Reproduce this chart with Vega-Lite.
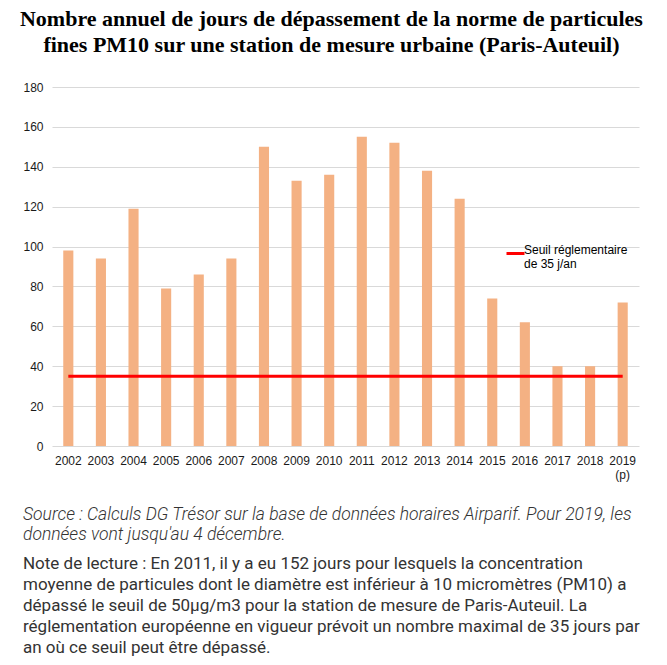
{
  "$schema": "https://vega.github.io/schema/vega-lite/v6.json",
  "padding": {"left": 19, "top": 8, "right": 0, "bottom": 0},
  "background": "white",
  "title": {
    "text": ["Nombre annuel de jours de dépassement de la norme de particules", "fines PM10 sur une station de mesure urbaine (Paris-Auteuil)"],
    "font": "Liberation Serif",
    "fontSize": 22,
    "fontWeight": "bold",
    "color": "#000000",
    "lineHeight": 26,
    "anchor": "middle",
    "offset": 24
  },
  "data": {
    "values": [
      {"year": "2002", "days": 98},
      {"year": "2003", "days": 94},
      {"year": "2004", "days": 119},
      {"year": "2005", "days": 79},
      {"year": "2006", "days": 86},
      {"year": "2007", "days": 94},
      {"year": "2008", "days": 150},
      {"year": "2009", "days": 133},
      {"year": "2010", "days": 136},
      {"year": "2011", "days": 155},
      {"year": "2012", "days": 152},
      {"year": "2013", "days": 138},
      {"year": "2014", "days": 124},
      {"year": "2015", "days": 74},
      {"year": "2016", "days": 62},
      {"year": "2017", "days": 40},
      {"year": "2018", "days": 40},
      {"year": "2019", "days": 72}
    ]
  },
  "vconcat": [
    {
      "width": 587,
      "height": 359,
      "title": {
        "text": ["Source : Calculs DG Trésor sur la base de données horaires Airparif. Pour 2019, les", "données vont jusqu'au 4 décembre."],
        "subtitle": ["Note de lecture : En 2011, il y a eu 152 jours pour lesquels la concentration", "moyenne de particules dont le diamètre est inférieur à 10 micromètres (PM10) a", "dépassé le seuil de 50µg/m3 pour la station de mesure de Paris-Auteuil. La", "réglementation européenne en vigueur prévoit un nombre maximal de 35 jours par", "an où ce seuil peut être dépassé."],
        "orient": "bottom",
        "anchor": "start",
        "font": "Roboto",
        "fontSize": 17.5,
        "fontStyle": "italic",
        "fontWeight": 300,
        "color": "#333333",
        "lineHeight": 20,
        "subtitleFont": "Roboto",
        "subtitleFontSize": 17,
        "subtitleFontWeight": 400,
        "subtitleColor": "#333333",
        "subtitleLineHeight": 21,
        "subtitlePadding": 12,
        "offset": 26
      },
      "layer": [
        {
          "mark": {"type": "bar", "color": "#F4B183"},
          "encoding": {
            "x": {
              "field": "year",
              "type": "nominal",
              "sort": null,
              "scale": {"paddingInner": 0.69, "paddingOuter": 0.345},
              "axis": {
                "title": null,
                "labelAngle": 0,
                "labelExpr": "datum.value == '2019' ? ['2019', '(p)'] : datum.value",
                "labelFont": "Liberation Sans",
                "labelFontSize": 12,
                "labelColor": "#1a1a1a",
                "labelPadding": 9,
                "ticks": false,
                "domain": false,
                "grid": false
              }
            },
            "y": {
              "field": "days",
              "type": "quantitative",
              "scale": {"domain": [0, 180], "nice": false},
              "axis": {
                "title": null,
                "values": [0, 20, 40, 60, 80, 100, 120, 140, 160, 180],
                "tickCount": 20,
                "labelOverlap": false,
                "labelFont": "Liberation Sans",
                "labelFontSize": 12,
                "labelColor": "#1a1a1a",
                "labelPadding": 9,
                "ticks": false,
                "domain": false,
                "grid": true,
                "gridColor": "#D9D9D9",
                "gridWidth": 1
              }
            }
          }
        },
        {
          "mark": {"type": "line", "strokeWidth": 3},
          "encoding": {
            "x": {"field": "year", "type": "nominal", "sort": null},
            "y": {
              "datum": 35,
              "type": "quantitative",
              "axis": {
                "title": null,
                "values": [0, 20, 40, 60, 80, 100, 120, 140, 160, 180],
                "tickCount": 20,
                "labelOverlap": false,
                "labelFont": "Liberation Sans",
                "labelFontSize": 12,
                "labelColor": "#1a1a1a",
                "labelPadding": 9,
                "ticks": false,
                "domain": false,
                "grid": true,
                "gridColor": "#D9D9D9",
                "gridWidth": 1
              }
            },
            "color": {
              "datum": "Seuil",
              "type": "nominal",
              "scale": {"range": ["#FF0000"]},
              "legend": {
                "title": null,
                "orient": "none",
                "legendX": 453,
                "legendY": 156,
                "symbolType": "stroke",
                "symbolSize": 324,
                "symbolStrokeWidth": 3,
                "labelExpr": "['Seuil réglementaire', 'de 35 j/an']",
                "labelFont": "Liberation Sans",
                "labelFontSize": 12,
                "labelColor": "#000000",
                "labelLimit": 0,
                "labelOffset": -2,
                "labelBaseline": "alphabetic"
              }
            }
          }
        }
      ]
    }
  ],
  "config": {
    "view": {"stroke": null}
  }
}
